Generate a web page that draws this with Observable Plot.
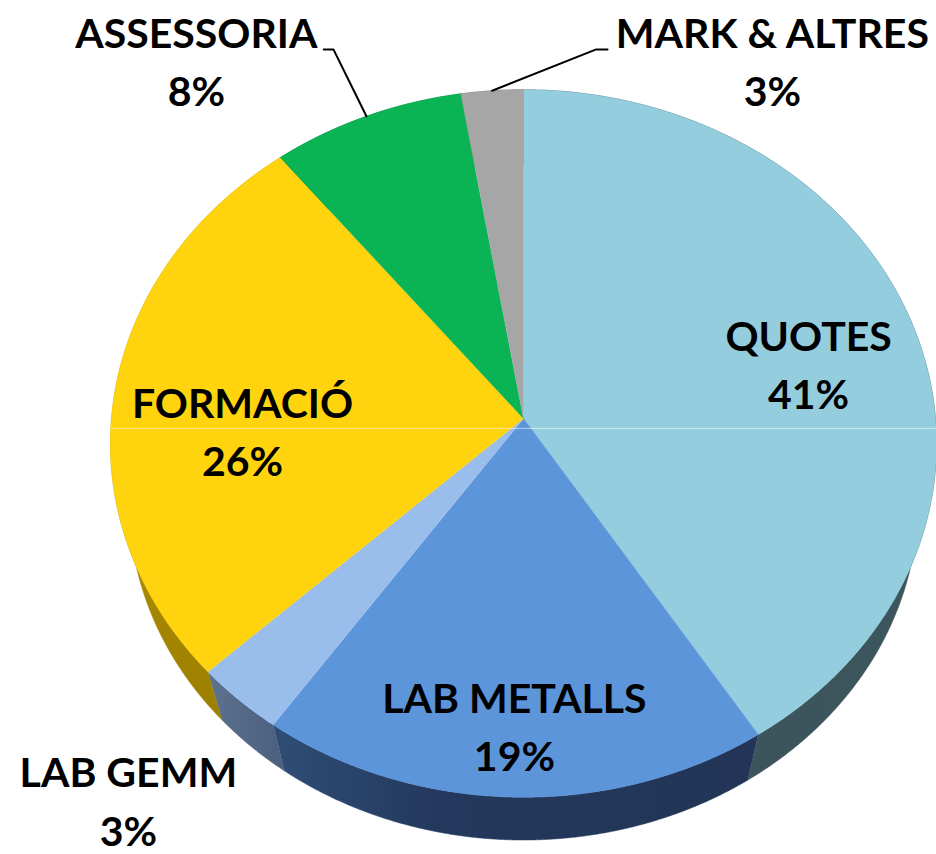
<!DOCTYPE html>
<html>
<head>
<meta charset="utf-8">
<script src="https://cdn.jsdelivr.net/npm/d3@7"></script>
<script src="https://cdn.jsdelivr.net/npm/@observablehq/plot@0.6"></script>
<style>
  html, body { margin: 0; padding: 0; background: #ffffff; }
  #chart svg { display: block; }
</style>
</head>
<body>
<div id="chart"></div>
<script>
// ---- data ----
const categories = ["QUOTES", "LAB METALLS", "LAB GEMM", "FORMACIÓ", "ASSESSORIA", "MARK & ALTRES"];
const values = [41.0, 18.7, 3.3, 26.3, 8.1, 2.6];
const topColors = ["#94CEDE", "#5C95DA", "#99BEEC", "#FFD40F", "#0AB455", "#A6A6A6"];
const sideColors = ["url(#sideQ)", "url(#sideM)", "url(#sideG)", "url(#sideF)", "#076B33", "#5C5C5C"];
// label anchors in chart units (x: -1..1 across the pie, y: -1..1 top-to-bottom)
const labelX = [0.692, -0.022, -0.959, -0.682, -0.794, 0.604];
const labelY = [-0.162, 0.867, 1.078, 0.029, -1.023, -1.023];
// leader lines for outside labels: [elbow x, end x, y]
const leaders = [
  {i: 4, elbowX: -0.461, endX: -0.485, y: -1.048},
  {i: 5, elbowX: 0.175, endX: 0.204, y: -1.048}
];

// ---- geometry (tilted 3D pie) ----
const K = 0.0706;     // perspective strength
const M = 0.955;      // bottom face shrink (perspective)
const OFF = 0.170;    // bottom face drop
function proj(a, r) {
  const u = r * Math.sin(a), v = -r * Math.cos(a);
  const s = 1 / (1 - K * v);
  return {X: u * s, Y: v * s};
}
function projBottom(a, r) {
  const p = proj(a, r);
  return {X: M * p.X, Y: M * p.Y + OFF};
}
const arcs = d3.pie().sort(null).value(d => d)(values);
const total = d3.sum(values);
const step = Math.PI / 720;

const tops = [], sides = [];
arcs.forEach((a, i) => {
  const n = Math.max(2, Math.ceil((a.endAngle - a.startAngle) / step));
  const angs = d3.range(n + 1).map(j => a.startAngle + (a.endAngle - a.startAngle) * j / n);
  tops.push({...proj(0, 0), key: i, fill: topColors[i]});
  angs.forEach(t => tops.push({...proj(t, 1), key: i, fill: topColors[i]}));
  angs.forEach(t => sides.push({...proj(t, 1), key: i, fill: sideColors[i]}));
  angs.slice().reverse().forEach(t => sides.push({...projBottom(t, 1), key: i, fill: sideColors[i]}));
});

// faint highlight line across the face
const hlY = 0.028;
const highlight = [{X: -1.0, Y: hlY}, {X: 1.0, Y: hlY}];

const labels = categories.map((c, i) => ({
  X: labelX[i], Y: labelY[i],
  text: c + "\n" + d3.format(".0%")(values[i] / total)
}));

const leaderPts = [];
leaders.forEach(l => {
  const a = arcs[l.i];
  const m = proj((a.startAngle + a.endAngle) / 2, 1);
  leaderPts.push({X: m.X, Y: m.Y, key: l.i});
  leaderPts.push({X: l.elbowX, Y: l.y, key: l.i});
  leaderPts.push({X: l.endX, Y: l.y, key: l.i});
});

const chart = Plot.plot({
  width: 936,
  height: 854,
  margin: 0,
  style: {background: "#ffffff"},
  x: {domain: [-1, 1], range: [111, 935], axis: null},
  y: {domain: [-1, 1], range: [66, 770], axis: null},
  color: {type: "identity"},
  marks: [
    Plot.line(sides, {x: "X", y: "Y", z: "key", fill: "fill", stroke: "fill", strokeWidth: 0.5}),
    Plot.line(tops, {x: "X", y: "Y", z: "key", fill: "fill", stroke: "fill", strokeWidth: 0.5}),
    Plot.line(highlight, {x: "X", y: "Y", stroke: "#ffffff", strokeOpacity: 0.55, strokeWidth: 1}),
    Plot.line(leaderPts, {x: "X", y: "Y", z: "key", stroke: "#000000", strokeWidth: 2}),
    Plot.text(labels, {
      x: "X", y: "Y", text: "text",
      fontSize: 41, fontWeight: "bold", fontFamily: "Lato, sans-serif",
      fill: "#000000", lineHeight: 1.42, textAnchor: "middle"
    })
  ]
});

// gradients for the rim shading
const defs = d3.select(chart).insert("defs", ":first-child");
function linGrad(id, stops, x2 = "1", y2 = "0") {
  const g = defs.append("linearGradient").attr("id", id)
    .attr("x1", "0").attr("y1", "0").attr("x2", x2).attr("y2", y2);
  stops.forEach(([o, c]) => g.append("stop").attr("offset", o).attr("stop-color", c));
}
linGrad("sideM", [[0, "#2F4D76"], [0.35, "#23385C"], [1, "#223556"]]);
linGrad("sideG", [[0, "#5E7290"], [1, "#4A5E7D"]]);
linGrad("sideQ", [[0, "#3A525A"], [1, "#3D565E"]]);
linGrad("sideF", [[0, "#C9A300"], [1, "#9C7F00"]], "0", "1");

document.getElementById("chart").appendChild(chart);
</script>
</body>
</html>
